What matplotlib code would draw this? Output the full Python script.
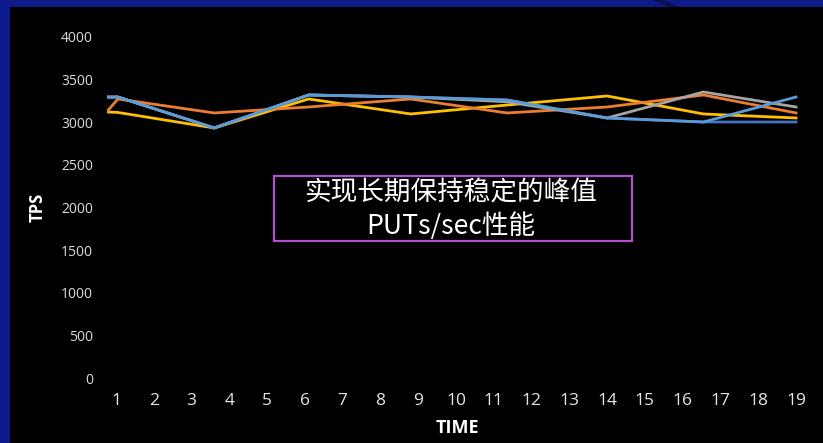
import matplotlib
matplotlib.use("Agg")
import matplotlib.pyplot as plt
from matplotlib.patches import Rectangle, Polygon

# Sample positions along the TIME axis (in category units)
time_pos = [0.8, 1.05, 3.6, 6.1, 8.8, 11.35, 14.0, 16.55, 19.0]

# TPS series
tps_dark_blue = [3296, 3296, 2933, 3320, 3296, 3261, 3050, 3003, 3003]
tps_yellow = [3120, 3115, 2933, 3273, 3097, 3202, 3308, 3097, 3050]
tps_orange = [3144, 3273, 3109, 3179, 3273, 3109, 3179, 3320, 3109]
tps_gray = [3296, 3296, 2933, 3320, 3296, 3240, 3050, 3355, 3179]
tps_light_blue = [3296, 3296, 2933, 3320, 3296, 3261, 3050, 3003, 3296]

x_ticks = list(range(1, 20))
y_ticks = [0, 500, 1000, 1500, 2000, 2500, 3000, 3500, 4000]

callout_lines = ["实现长期保持稳定的峰值", "PUTs/sec性能"]

W, H = 823, 443
fig = plt.figure(figsize=(W / 100, H / 100), dpi=100, facecolor="black")

def fx(px):
    return px / W

def fy(py):
    return 1 - py / H

# Slide frame: blue bands on top and left
fig.patches.append(Rectangle((0, fy(7)), 1, 7 / H, transform=fig.transFigure,
                             facecolor="#0e1a88", edgecolor="none", zorder=0))
fig.patches.append(Rectangle((0, 0), fx(10), 1, transform=fig.transFigure,
                             facecolor="#0c1a8c", edgecolor="none", zorder=0))
fig.patches.append(Polygon([(fx(653), fy(0)), (fx(663), fy(0)), (fx(680), fy(7)), (fx(668), fy(7))],
                           closed=True, transform=fig.transFigure,
                           facecolor="#0a1055", edgecolor="none", zorder=1))

ax_left, ax_right = 97.1, 814.9
ax = fig.add_axes([fx(ax_left), fy(378), (ax_right - ax_left) / W, (378 - 37) / H])
ax.set_facecolor("black")
ax.set_xlim(0.5, 19.5)
ax.set_ylim(0, 4000)

lw = 2.0
ax.plot(time_pos, tps_dark_blue, color="#4472C4", lw=lw, solid_joinstyle="miter")
ax.plot(time_pos, tps_yellow, color="#FFC000", lw=lw, solid_joinstyle="miter")
ax.plot(time_pos, tps_orange, color="#ED7D31", lw=lw, solid_joinstyle="miter")
ax.plot(time_pos, tps_gray, color="#A5A5A5", lw=lw, solid_joinstyle="miter")
ax.plot(time_pos, tps_light_blue, color="#5B9BD5", lw=lw, solid_joinstyle="miter")

for s in ax.spines.values():
    s.set_visible(False)

ax.set_xticks(x_ticks)
ax.set_xticklabels([str(v) for v in x_ticks])
ax.set_yticks(y_ticks)
ax.set_yticklabels([str(v) for v in y_ticks])
ax.tick_params(axis="x", length=0, pad=11, labelsize=12.5, labelcolor="#e6e6e6")
ax.tick_params(axis="y", length=0, pad=3, labelsize=10, labelcolor="#dcdcdc")
for lbl in ax.get_xticklabels():
    lbl.set_family(["Open Sans", "DejaVu Sans"])
for lbl in ax.get_yticklabels():
    lbl.set_family(["Open Sans", "DejaVu Sans"])

fig.text(fx(38), fy(207), "TPS", rotation=90, ha="center", va="center",
         color="white", fontsize=12, fontweight="bold", family=["Open Sans", "DejaVu Sans"])
fig.text(fx(457), fy(428), "TIME", ha="center", va="center",
         color="white", fontsize=13, fontweight="bold", family=["Open Sans", "DejaVu Sans"])

# Callout box
fig.patches.append(Rectangle((fx(274), fy(241)), (632 - 274) / W, (241 - 176) / H,
                             transform=fig.transFigure, facecolor="black",
                             edgecolor="#b24fd0", linewidth=1.6, zorder=5))
fig.text(fx(451), fy(193), callout_lines[0], ha="center", va="center", color="white",
         fontsize=19.2, family=["Noto Sans CJK SC", "DejaVu Sans"], zorder=6)
fig.text(fx(451), fy(226), callout_lines[1], ha="center", va="center", color="white",
         fontsize=19.2, family=["Noto Sans CJK SC", "DejaVu Sans"], zorder=6)

fig.savefig("out.png", dpi=100, facecolor="black")
